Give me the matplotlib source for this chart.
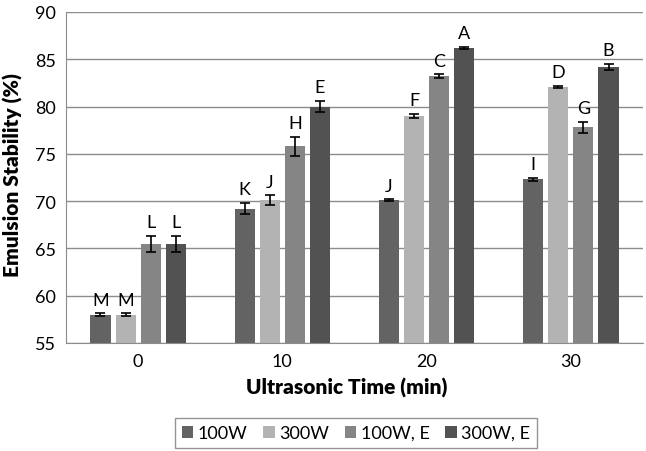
import matplotlib
matplotlib.use('Agg')
import matplotlib.pyplot as plt
import numpy as np

# data
times = ['0', '10', '20', '30']
series = ['100W', '300W', '100W, E', '300W, E']
values = [
    [58.0, 69.2, 70.1, 72.3],
    [58.0, 70.1, 79.0, 82.1],
    [65.5, 75.8, 83.2, 77.8],
    [65.5, 80.0, 86.2, 84.2],
]
errors = [
    [0.15, 0.6, 0.1, 0.15],
    [0.15, 0.5, 0.2, 0.1],
    [0.85, 1.0, 0.2, 0.6],
    [0.85, 0.6, 0.1, 0.35],
]
letters = [
    ['M', 'K', 'J', 'I'],
    ['M', 'J', 'F', 'D'],
    ['L', 'H', 'C', 'G'],
    ['L', 'E', 'A', 'B'],
]
colors = ['#636363', '#b3b3b3', '#858585', '#525252']

plt.rcParams['font.family'] = ['Lato', 'DejaVu Sans']

fig = plt.figure(figsize=(6.46, 4.52), dpi=100)
ax = fig.add_axes([66 / 646, 1 - 344 / 452, 577 / 646, 331 / 452])

x = np.arange(len(times))
width = 0.139
step = 0.174
for i, name in enumerate(series):
    pos = x + (i - 1.5) * step
    ax.bar(pos, values[i], width, color=colors[i], label=name, zorder=2)
    ax.errorbar(pos, values[i], yerr=errors[i], fmt='none', ecolor='black',
                elinewidth=1.2, capsize=3.5, capthick=1.2, zorder=3)
    for p, v, e, t in zip(pos, values[i], errors[i], letters[i]):
        ax.text(p, v + e + 0.6, t, ha='center', va='bottom', fontsize=13, color='black')

ax.set_ylim(55, 90)
ax.set_xlim(-0.5, 3.5)
ax.set_yticks(np.arange(55, 91, 5))
ax.set_xticks(x)
ax.set_xticklabels(times)
ax.tick_params(axis='both', length=0, labelsize=13, pad=7)
ax.yaxis.grid(True, color='#8c8c8c', linewidth=1.0, zorder=0)
ax.set_axisbelow(True)
for s in ['top', 'right']:
    ax.spines[s].set_visible(False)
ax.spines['left'].set_color('#8c8c8c')
ax.spines['bottom'].set_color('#8c8c8c')

ax.set_ylabel('Emulsion Stability (%)', fontsize=15, fontweight='heavy')
ax.yaxis.set_label_coords(-0.074, 0.51)
ax.set_xlabel('Ultrasonic Time (min)', fontsize=15, fontweight='heavy')
ax.xaxis.set_label_coords(0.486, -0.102)

leg = fig.legend(loc='center', bbox_to_anchor=(356 / 646, 1 - 434 / 452), ncol=4,
                 frameon=True, fancybox=False, edgecolor='#7a7a7a', fontsize=13,
                 handlelength=0.65, handleheight=0.65, handletextpad=0.25,
                 columnspacing=0.85, borderpad=0.4, borderaxespad=0)
leg.get_frame().set_linewidth(1.0)

fig.savefig('out.png', dpi=100, facecolor='white')
